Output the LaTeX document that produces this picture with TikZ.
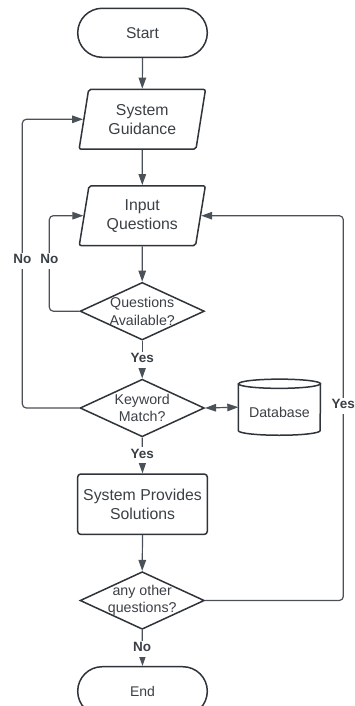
\documentclass[tikz,border=0pt]{standalone}
\usepackage{fontspec}
\setmainfont{Liberation Sans}
\usetikzlibrary{shapes.geometric,arrows.meta,calc}
\definecolor{edgecol}{HTML}{2F343A}
\definecolor{wirecol}{HTML}{4B5158}
\definecolor{inkcol}{HTML}{3B4046}
\begin{document}
\begin{tikzpicture}[x=1pt,y=-1pt,
  shapebase/.style={draw=edgecol, line width=1.5pt, text=inkcol, align=center, inner sep=0pt},
  bigtext/.style={font=\fontsize{15.8}{18.8}\selectfont},
  smalltext/.style={font=\fontsize{14.2}{17.6}\selectfont},
  terminal/.style={shapebase, rectangle, rounded corners=24.5pt, minimum width=129.6pt, minimum height=49pt},
  iobox/.style={shapebase, bigtext, trapezium, trapezium left angle=78.7, trapezium right angle=101.3,
    trapezium stretches=true, minimum width=127pt, minimum height=59.7pt, rounded corners=2pt},
  process/.style={shapebase, bigtext, rectangle, rounded corners=3pt, minimum width=129.6pt, minimum height=60.3pt},
  decision/.style={shapebase, diamond, minimum width=124.3pt, minimum height=57.6pt},
  dtext/.style={text=inkcol, align=center, smalltext, inner sep=0pt},
  wire/.style={draw=wirecol, line width=1.2pt, rounded corners=4pt},
  arr/.style={wire, -{Triangle[length=11pt,width=7.5pt]}},
  lbl/.style={fill=white, text=inkcol, font=\bfseries\fontsize{13.5}{16}\selectfont,
    text height=10pt, text depth=4pt, inner xsep=1pt, inner ysep=1pt}
]
\useasboundingbox (0,0) rectangle (354,706);
\fill[white] (0,0) rectangle (354,706);

% main column
\node[terminal, font=\fontsize{15.6}{18}\selectfont] (start) at (142.5,32.8) {Start};
\node[iobox] (sg) at (142.3,119.3) {System\\Guidance};
\node[iobox] (iq) at (142.3,215.7) {Input\\Questions};
\node[decision, label={[dtext]center:Questions\\Available?}] (qa) at (142.2,311.2) {};
\node[decision, label={[dtext]center:Keyword\\Match?}] (km) at (142.2,408) {};
\node[process] (sps) at (142.5,504.2) {System Provides\\Solutions};
\node[decision, label={[dtext]center:any other\\questions?}] (aoq) at (142.2,600.5) {};
\node[terminal, font=\fontsize{14}{17}\selectfont] (end) at (142.5,691.2) {End};

% database drum
\node[rectangle, inner sep=0pt, minimum width=81.8pt, minimum height=55.7pt] (db) at (279.4,407.2) {};
\draw[draw=edgecol, line width=1.5pt]
  ($(db.north west)+(0,4.6)$) -- ($(db.south west)+(0,-4.6)$)
  arc[start angle=180, end angle=0, x radius=40.9, y radius=4.6]
  -- ($(db.north east)+(0,4.6)$)
  arc[start angle=0, end angle=-180, x radius=40.9, y radius=4.6] -- cycle;
\draw[draw=edgecol, line width=1.5pt]
  ($(db.north west)+(0,4.6)$) arc[start angle=180, end angle=0, x radius=40.9, y radius=4.6];
\node[dtext] (dbtext) at ($(db.center)+(0,5.5)$) {Database};

% rails of the loop-back connectors
\coordinate (railA) at (22.3,260.5);
\coordinate (railB) at (49.3,260.5);
\coordinate (railC) at (343.3,405.5);

% straight connectors
\draw[arr] (start.south) -- (sg.north);
\draw[arr] (sg.south) -- (iq.north);
\draw[arr] (iq.south) -- (qa.north);
\draw[arr] (qa.south) -- (km.north);
\draw[arr] (km.south) -- (sps.north);
\draw[arr] (sps.south) -- (aoq.north);
\draw[arr] (aoq.south) -- (end.north);
\draw[wire, {Triangle[length=11pt,width=7.5pt]}-{Triangle[length=11pt,width=7.5pt]}] (km.east) -- (db.west);

% loop-back connectors
\draw[arr] (km.west) -| (railA) |- (sg.west);
\draw[arr] (qa.west) -| (railB) |- (iq.west);
\draw[arr] (aoq.east) -| (railC) |- (iq.east);

% connector labels
\node[lbl] at (142.2,359.7) {Yes};
\node[lbl] at (142.2,455.3) {Yes};
\node[lbl] at (142.2,648.7) {No};
\node[lbl] at (railA) {No};
\node[lbl] at (railB) {No};
\node[lbl] at (railC) {Yes};
\end{tikzpicture}
\end{document}
